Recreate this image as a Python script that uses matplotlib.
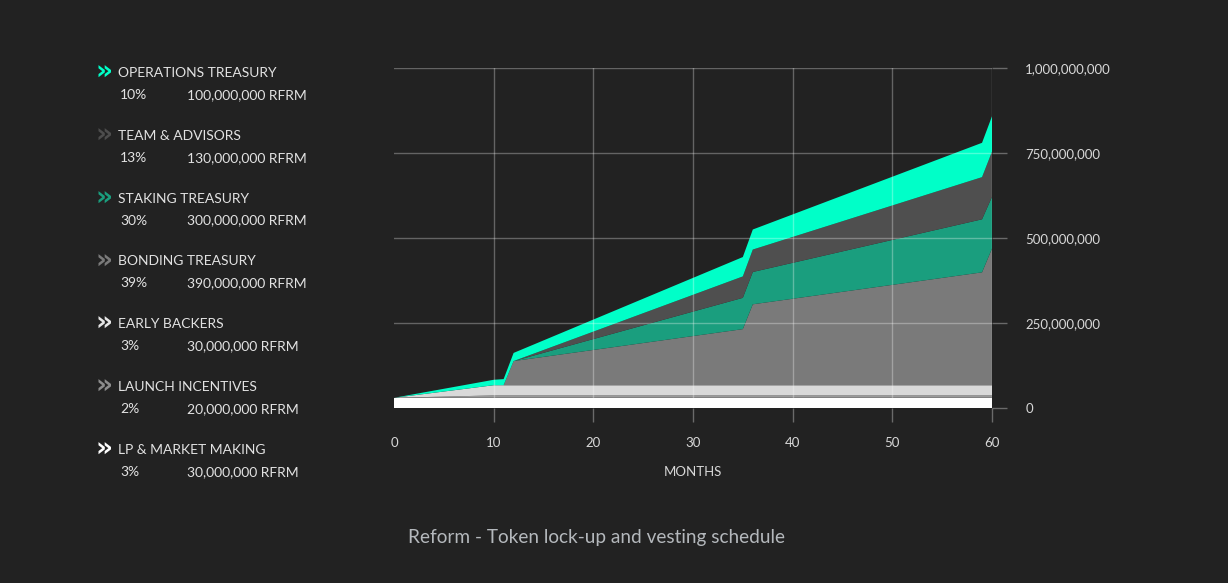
import matplotlib.pyplot as plt
import numpy as np

# vesting schedule, millions of RFRM unlocked (cumulative per allocation)
months = [0, 10, 11, 12, 35, 36, 59, 60]
lp_market = [30, 30, 30, 30, 30, 30, 30, 30]
launch = [0, 7, 7, 7, 7, 7, 7, 7]
early_backers = [0, 30, 30, 30, 30, 30, 30, 30]
bonding = [0, 0, 0, 71, 165, 238, 332, 402]
staking = [0, 0, 0, 0, 92, 95, 156, 152]
team = [0, 0, 0, 0, 63, 66, 124, 133]
operations = [0, 16, 18, 24, 57, 59, 101, 104]

# legend text
names = ["OPERATIONS TREASURY", "TEAM & ADVISORS", "STAKING TREASURY",
         "BONDING TREASURY", "EARLY BACKERS", "LAUNCH INCENTIVES",
         "LP & MARKET MAKING"]
pcts = ["10%", "13%", "30%", "39%", "3%", "2%", "3%"]
amounts = ["100,000,000 RFRM", "130,000,000 RFRM", "300,000,000 RFRM",
           "390,000,000 RFRM", "30,000,000 RFRM", "20,000,000 RFRM",
           "30,000,000 RFRM"]
chevron_colors = ["#00ffc8", "#4d4d4d", "#1a9e7e", "#7a7a7a",
                  "#e6e6e6", "#8c8c8c", "#ffffff"]

x_ticks = [0, 10, 20, 30, 40, 50, 60]
y_ticks = [0, 250e6, 500e6, 750e6, 1000e6]
y_labels = ["0", "250,000,000", "500,000,000", "750,000,000", "1,000,000,000"]

bg = "#222222"
plt.rcParams['font.family'] = ['Lato', 'DejaVu Sans']

fig = plt.figure(figsize=(12.28, 5.83), dpi=100, facecolor=bg)
ax = fig.add_axes([394 / 1228, 1 - 408 / 583, 598 / 1228, 340 / 583])
ax.set_facecolor(bg)

layers = [lp_market, launch, early_backers, bonding, staking, team, operations]
layers = [np.array(l) * 1e6 for l in layers]
fill_colors = ["#ffffff", "#9a9a9a", "#d9d9d9", "#7a7a7a", "#1a9e7e",
               "#4f4f4f", "#00ffc8"]
ax.stackplot(months, *layers, colors=fill_colors, linewidth=0)

ax.set_xlim(0, 60)
ax.set_ylim(0, 1e9)

tick_c = (1, 1, 1, 0.33)
ax.set_axisbelow(False)
ax.set_xticks(x_ticks)
ax.set_yticks(y_ticks)
ax.set_yticklabels(y_labels)
ax.grid(True, color='white', alpha=0.3, linewidth=1)
ax.xaxis.get_gridlines()[0].set_visible(False)
ax.yaxis.get_gridlines()[0].set_visible(False)
ax.xaxis.get_major_ticks()[0].tick1line.set_visible(False)
ax.yaxis.tick_right()
ax.tick_params(axis='y', length=11, width=1, color=tick_c, pad=13,
               labelcolor="#d8d8d8", labelsize=9.5)
ax.tick_params(axis='x', length=10, width=1, color=tick_c, pad=11,
               labelcolor="#d8d8d8", labelsize=9.5)
for s in ax.spines.values():
    s.set_visible(False)
ax.set_xlabel("MONTHS", color="#d8d8d8", fontsize=9.5, labelpad=12)

# legend on the left
for i, name in enumerate(names):
    y1 = 1 - (73 + i * 62.8) / 583
    y2 = 1 - (95 + i * 62.8) / 583
    fig.text(95 / 1228, y1, "»", color=chevron_colors[i], fontsize=19,
             fontweight='bold', family='DejaVu Sans', va='center')
    fig.text(118 / 1228, y1, name, color="#e2e2e2", fontsize=10, va='center')
    fig.text(120 / 1228, y2, pcts[i], color="#e2e2e2", fontsize=10, va='center')
    fig.text(187 / 1228, y2, amounts[i], color="#e2e2e2", fontsize=10, va='center')

fig.text(597 / 1228, 1 - 537 / 583, "Reform - Token lock-up and vesting schedule",
         color="#b4b8bc", fontsize=13.7, ha='center', va='center')

fig.savefig("out.png", dpi=100, facecolor=bg)
